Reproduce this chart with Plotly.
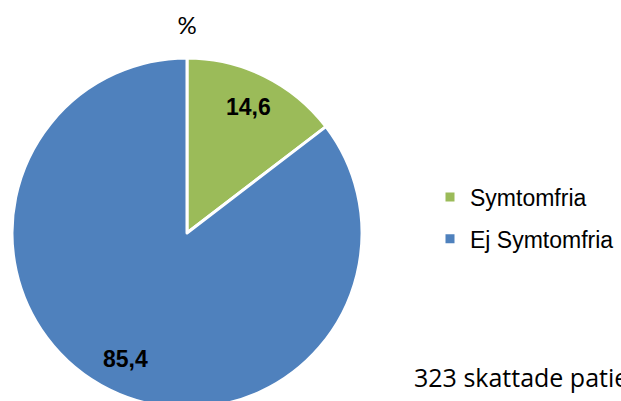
import math
import plotly.graph_objects as go

labels = ["Symtomfria", "Ej Symtomfria"]
values = [14.6, 85.4]
colors = ["#9BBB59", "#4F81BD"]
title_text = "%"
note_text = "323 skattade patienter"

W, H = 621, 420
PIE = 350  # pie diameter in px

fig = go.Figure()
fig.add_trace(
    go.Pie(
        labels=labels,
        values=values,
        sort=False,
        direction="clockwise",
        rotation=0,
        marker=dict(colors=colors, line=dict(color="white", width=3)),
        textinfo="none",
        hoverinfo="label+value",
        showlegend=False,
    )
)

# legend entries (square markers) via empty scatter traces
for i, (lab, col) in enumerate(zip(labels, colors)):
    fig.add_trace(
        go.Scatter(
            x=[None],
            y=[None],
            mode="markers",
            name=lab,
            legendgroup=f"g{i}",
            marker=dict(symbol="square", size=9, color=col),
            showlegend=True,
        )
    )

# data labels positioned on slice bisectors (from values)
total = sum(values)
annotations = []
cum = 0.0
for v in values:
    mid = (cum + v / 2) / total * 2 * math.pi
    cum += v
    rr = 0.8 * 0.5
    annotations.append(
        dict(
            text=f"{v:.1f}".replace(".", ","),
            xref="paper",
            yref="paper",
            x=0.5 + rr * math.sin(mid),
            y=0.5 + rr * math.cos(mid),
            xanchor="center",
            yanchor="middle",
            showarrow=False,
            font=dict(family="Liberation Sans, Arial", size=23, color="black", weight="bold"),
        )
    )

annotations.append(
    dict(
        text=note_text,
        xref="paper",
        yref="paper",
        x=(412 - 12) / PIE,
        xanchor="left",
        y=1 - (377 - 58) / PIE,
        yanchor="middle",
        showarrow=False,
        font=dict(family="Open Sans, Lato", size=25, color="black"),
    )
)

fig.update_layout(
    width=W,
    height=H,
    margin=dict(l=12, r=W - 12 - PIE, t=58, b=H - 58 - PIE),
    paper_bgcolor="white",
    plot_bgcolor="white",
    xaxis=dict(visible=False),
    yaxis=dict(visible=False),
    title=dict(
        text=title_text,
        x=187 / W,
        xanchor="center",
        xref="container",
        y=1 - 26 / H,
        yanchor="middle",
        yref="container",
        font=dict(family="Lato, Liberation Sans", size=24, color="black"),
    ),
    legend=dict(
        x=430 / W,
        xref="container",
        xanchor="left",
        y=1 - 218 / H,
        yref="container",
        yanchor="middle",
        tracegroupgap=9,
        traceorder="grouped",
        font=dict(family="Liberation Sans, Arial", size=23, color="black"),
        bgcolor="rgba(0,0,0,0)",
    ),
    annotations=annotations,
)

fig.write_html(
    "out.html",
    config={"displayModeBar": False},
    post_script="document.body.style.margin='0';document.body.style.overflow='hidden';",
)
